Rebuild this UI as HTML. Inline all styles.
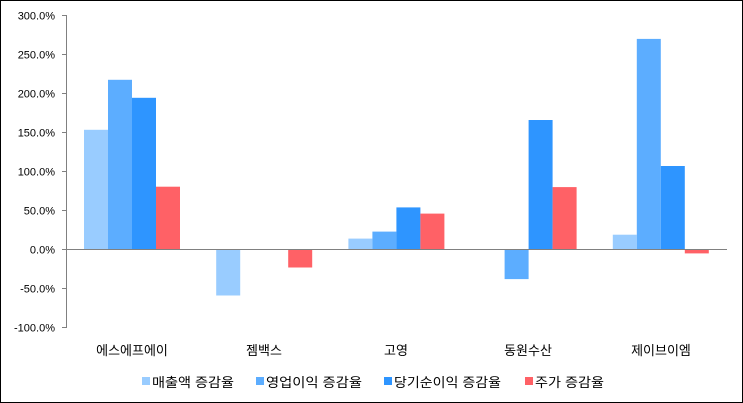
<!DOCTYPE html>
<html><head><meta charset="utf-8"><style>
html,body{margin:0;padding:0;background:#fff}
svg{display:block}
text{font-family:"Liberation Sans","Noto Sans CJK KR",sans-serif;fill:#000}
</style></head><body>
<svg width="743" height="403" viewBox="0 0 743 403" xmlns="http://www.w3.org/2000/svg">
<rect x="0.5" y="0.5" width="742" height="402" fill="#fff" stroke="#000" stroke-width="1"/>
<g font-size="11" text-anchor="end">
<text x="55" y="19.5">300.0%</text>
<text x="55" y="58.5">250.0%</text>
<text x="55" y="97.5">200.0%</text>
<text x="55" y="136.5">150.0%</text>
<text x="55" y="175.5">100.0%</text>
<text x="55" y="214.5">50.0%</text>
<text x="55" y="253.5">0.0%</text>
<text x="55" y="292.5">-50.0%</text>
<text x="55" y="331.5">-100.0%</text>
</g>
<g stroke="#808080" stroke-width="1">
<line x1="66.5" y1="15" x2="66.5" y2="328"/>
<line x1="62" y1="15.5" x2="66" y2="15.5"/>
<line x1="62" y1="54.5" x2="66" y2="54.5"/>
<line x1="62" y1="93.5" x2="66" y2="93.5"/>
<line x1="62" y1="132.5" x2="66" y2="132.5"/>
<line x1="62" y1="171.5" x2="66" y2="171.5"/>
<line x1="62" y1="210.5" x2="66" y2="210.5"/>
<line x1="62" y1="249.5" x2="66" y2="249.5"/>
<line x1="62" y1="288.5" x2="66" y2="288.5"/>
<line x1="62" y1="327.5" x2="66" y2="327.5"/>
</g>
<rect x="84" y="129.8" width="24" height="119.7" fill="#99ccff"/>
<rect x="108" y="79.8" width="24" height="169.7" fill="#5cadff"/>
<rect x="132" y="97.8" width="24" height="151.7" fill="#2e95ff"/>
<rect x="156" y="186.7" width="24" height="62.8" fill="#ff6166"/>

<rect x="216.2" y="249.5" width="24" height="46" fill="#99ccff"/>
<rect x="288.2" y="249.5" width="24" height="18" fill="#ff6166"/>

<rect x="348.4" y="238.6" width="24" height="10.9" fill="#99ccff"/>
<rect x="372.4" y="231.6" width="24" height="17.9" fill="#5cadff"/>
<rect x="396.4" y="207.4" width="24" height="42.1" fill="#2e95ff"/>
<rect x="420.4" y="213.6" width="24" height="35.9" fill="#ff6166"/>

<rect x="504.6" y="249.5" width="24" height="29.6" fill="#5cadff"/>
<rect x="528.6" y="120" width="24" height="129.5" fill="#2e95ff"/>
<rect x="552.6" y="187.1" width="24" height="62.4" fill="#ff6166"/>

<rect x="612.8" y="234.7" width="24" height="14.8" fill="#99ccff"/>
<rect x="636.8" y="38.9" width="24" height="210.6" fill="#5cadff"/>
<rect x="660.8" y="166" width="24" height="83.5" fill="#2e95ff"/>
<rect x="684.8" y="249.5" width="24" height="3.9" fill="#ff6166"/>

<line x1="66" y1="249.5" x2="727" y2="249.5" stroke="#808080" stroke-width="1"/>

<g font-size="13" text-anchor="middle">
<text x="132" y="355">에스에프에이</text>
<text x="264" y="355">젬백스</text>
<text x="396" y="355">고영</text>
<text x="528" y="355">동원수산</text>
<text x="661" y="355">제이브이엠</text>
</g>
<g font-size="13">
<rect x="142" y="377" width="8" height="8" fill="#99ccff"/>
<text x="152" y="387" textLength="82" lengthAdjust="spacingAndGlyphs">매출액 증감율</text>
<rect x="256" y="377" width="8" height="8" fill="#5cadff"/>
<text x="266" y="387" textLength="96" lengthAdjust="spacingAndGlyphs">영업이익 증감율</text>
<rect x="384" y="377" width="8" height="8" fill="#2e95ff"/>
<text x="394" y="387" textLength="107" lengthAdjust="spacingAndGlyphs">당기순이익 증감율</text>
<rect x="525" y="377" width="8" height="8" fill="#ff6166"/>
<text x="535" y="387" textLength="69" lengthAdjust="spacingAndGlyphs">주가 증감율</text>
</g>
</svg>
</body></html>
